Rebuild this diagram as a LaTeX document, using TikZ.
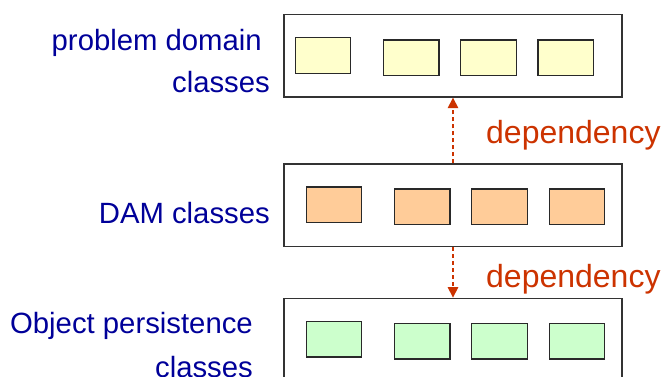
\documentclass[tikz,border=0pt]{standalone}
\usepackage{fontspec}
\setmainfont{Liberation Sans}
\usetikzlibrary{arrows.meta}
\definecolor{lblblue}{HTML}{000099}
\definecolor{deporange}{HTML}{CC3300}
\definecolor{pdfill}{HTML}{FFFFCC}
\definecolor{damfill}{HTML}{FFCC99}
\definecolor{opfill}{HTML}{CCFFCC}
\definecolor{edge}{HTML}{333333}
\begin{document}
\begin{tikzpicture}[x=1pt,y=-1pt,
  layerbox/.style={draw=edge, line width=1.3pt, fill=white, minimum width=338pt, minimum height=82.5pt, inner sep=0pt},
  clsbox/.style={draw=edge!80!black, line width=1.2pt, minimum width=55.5pt, minimum height=35.5pt, inner sep=0pt},
  lbl/.style={text=lblblue, font=\fontsize{29.3}{35}\selectfont, anchor=base east, inner sep=0pt},
  deplbl/.style={text=deporange, font=\fontsize{32}{38}\selectfont, anchor=base west, inner sep=0pt},
  dep/.style={draw=deporange, line width=1.2pt, dash pattern=on 4pt off 3pt, arrows={-{Triangle[width=10.5pt,length=10.5pt]}}}
]
\useasboundingbox (0,0) rectangle (667,376);
% layer boxes
\node[layerbox] (P) at (453,55.75) {};
\node[layerbox] (D) at (453,205.2) {};
\node[layerbox] (O) at (453,339.5) {};
% problem domain classes
\node[clsbox, fill=pdfill] (p1) at (323,55.5) {};
\node[clsbox, fill=pdfill] (p2) at (411.3,57.7) {};
\node[clsbox, fill=pdfill] (p3) at (488.5,57.7) {};
\node[clsbox, fill=pdfill] (p4) at (565.8,57.7) {};
% DAM classes
\node[clsbox, fill=damfill] (d1) at (334,204.7) {};
\node[clsbox, fill=damfill] (d2) at (422.3,206.7) {};
\node[clsbox, fill=damfill] (d3) at (499.5,206.7) {};
\node[clsbox, fill=damfill] (d4) at (577,206.7) {};
% object persistence classes
\node[clsbox, fill=opfill] (o1) at (334,339.3) {};
\node[clsbox, fill=opfill] (o2) at (422.3,341.2) {};
\node[clsbox, fill=opfill] (o3) at (499.5,341.2) {};
\node[clsbox, fill=opfill] (o4) at (577,341.2) {};
% dependencies
\draw[dep] (D.north) -- (P.south);
\draw[dep] (D.south) -- (O.north);
\node[deplbl] (dl1) at (486,143.3) {dependency};
\node[deplbl] (dl2) at (486,287) {dependency};
% labels
\node[lbl] (l1a) at (262,50) {problem domain};
\node[lbl] (l1b) at (270,92) {classes};
\node[lbl] (l2) at (270,223) {DAM classes};
\node[lbl] (l3a) at (253,333.3) {Object persistence};
\node[lbl] (l3b) at (253,377) {classes};
\end{tikzpicture}
\end{document}
